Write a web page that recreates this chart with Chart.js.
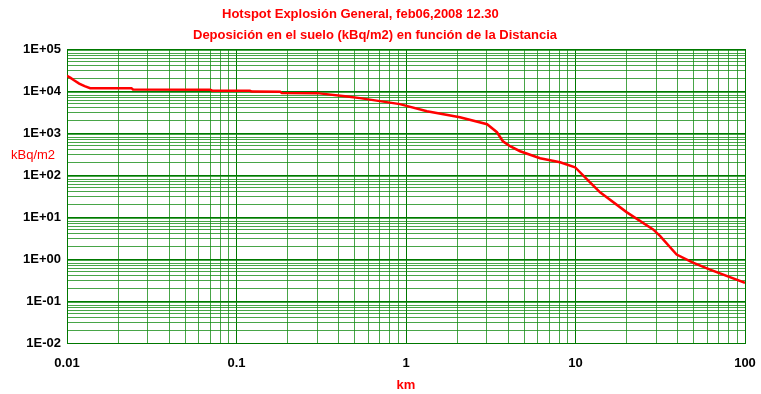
<!DOCTYPE html>
<html>
<head>
<meta charset="utf-8">
<script src="https://cdn.jsdelivr.net/npm/chart.js@4/dist/chart.umd.min.js"></script>
<style>
  html, body { margin: 0; padding: 0; background: #ffffff; }
  #c { display: block; }
</style>
</head>
<body>
<canvas id="c" width="761" height="394"></canvas>
<script>
// ---- Data ----
const distanceKm = [0.01, 0.0105, 0.011, 0.0118, 0.0127, 0.0137, 0.024, 0.0245, 0.070, 0.072, 0.120, 0.123, 0.181, 0.185, 0.299, 0.45, 0.535, 0.92, 1.33, 2.08, 3.01, 3.44, 3.73, 4.11, 4.71, 6.18, 8.11, 9.94, 11.7, 13.96, 20.1, 28.7, 31.6, 39.5, 49.3, 62.2, 100];
const depositionKBq = [23000, 20500, 18000, 15000, 13000, 11700, 11700, 10900, 10700, 10200, 10100, 9700, 9570, 9000, 8900, 7430, 6770, 4870, 3310, 2380, 1620, 1045, 636, 484, 368, 250, 201, 153, 78.9, 38.6, 12.9, 5.06, 3.5, 1.28, 0.82, 0.561, 0.27];

// Tick labels
const xDecades = [0.01, 0.1, 1, 10, 100];
const xTickLabels = ['0.01', '0.1', '1', '10', '100'];
const yDecades = [0.01, 0.1, 1, 10, 100, 1000, 10000, 100000];
const yTickLabels = ['1E-02', '1E-01', '1E+00', '1E+01', '1E+02', '1E+03', '1E+04', '1E+05'];

const titleLine1 = 'Hotspot Explosión General, feb06,2008 12.30';
const titleLine2 = 'Deposición en el suelo (kBq/m2) en función de la Distancia';
const yAxisTitle = 'kBq/m2';
const xAxisTitle = 'km';

// ---- helpers: ticks 1..9 per decade ----
function decadeTicks(decades) {
  const out = [];
  for (let i = 0; i < decades.length; i++) {
    const d = decades[i];
    if (i === decades.length - 1) { out.push({value: d, major: true}); break; }
    for (let k = 1; k <= 9; k++) {
      out.push({value: Number((k * d).toPrecision(4)), major: k === 1});
    }
  }
  return out;
}
function labelFor(value, decades, labels) {
  for (let i = 0; i < decades.length; i++) {
    if (Math.abs(value - decades[i]) / decades[i] < 1e-6) return labels[i];
  }
  return '';
}
function isDecade(value, decades) {
  return labelFor(value, decades, decades.map(() => 'x')) !== '';
}

const points = distanceKm.map((x, i) => ({x: x, y: depositionKBq[i]}));

const textPlugin = {
  id: 'texts',
  afterDraw(chart) {
    const ctx = chart.ctx;
    ctx.save();
    ctx.fillStyle = '#ff0000';
    ctx.textBaseline = 'middle';
    ctx.textAlign = 'left';
    ctx.font = 'bold 13px "Liberation Sans", Arial, sans-serif';
    ctx.fillText(titleLine1, 222, 14);
    ctx.fillText(titleLine2, 193, 35);
    ctx.font = '13px "Liberation Sans", Arial, sans-serif';
    ctx.fillText(yAxisTitle, 11, 155);
    ctx.restore();
  }
};

const bgPlugin = {
  id: 'bg',
  beforeDraw(chart) {
    const ctx = chart.ctx;
    ctx.save();
    ctx.fillStyle = '#ffffff';
    ctx.fillRect(0, 0, chart.width, chart.height);
    ctx.restore();
  }
};

function gridColor(decades) {
  return (ctx) => {
    const v = ctx.tick ? ctx.tick.value : null;
    if (v !== null && isDecade(v, decades)) return 'rgba(0,120,0,1)';
    return 'rgba(20,140,20,0.78)';
  };
}

new Chart(document.getElementById('c'), {
  type: 'line',
  data: {
    datasets: [{
      data: points,
      borderColor: '#ff0000',
      borderWidth: 2.5,
      pointRadius: 0,
      tension: 0,
      fill: false
    }]
  },
  plugins: [bgPlugin, textPlugin],
  options: {
    responsive: false,
    animation: false,
    devicePixelRatio: 1,
    layout: { padding: { top: 49, right: 16, left: 0, bottom: 0 } },
    plugins: { legend: { display: false }, tooltip: { enabled: false }, title: { display: false } },
    scales: {
      x: {
        type: 'logarithmic',
        min: 0.01,
        max: 100,
        afterBuildTicks: (scale) => { scale.ticks = decadeTicks(xDecades); },
        afterFit: (scale) => { scale.height = 51; scale.paddingRight = 0; scale.paddingLeft = 0; },
        ticks: {
          autoSkip: false,
          maxRotation: 0,
          minRotation: 0,
          padding: 13,
          color: '#000000',
          font: { family: '"Liberation Sans", Arial, sans-serif', size: 13, weight: 'bold' },
          callback: (value) => labelFor(value, xDecades, xTickLabels)
        },
        grid: { color: gridColor(xDecades), lineWidth: 1, drawTicks: false },
        border: { color: 'rgba(0,120,0,1)', width: 1 },
        title: {
          display: true,
          text: xAxisTitle,
          color: '#ff0000',
          font: { family: '"Liberation Sans", Arial, sans-serif', size: 13, weight: 'bold' },
          padding: { top: 0, bottom: 1 }
        }
      },
      y: {
        type: 'logarithmic',
        min: 0.01,
        max: 100000,
        afterBuildTicks: (scale) => { scale.ticks = decadeTicks(yDecades); },
        afterFit: (scale) => { scale.width = 67; },
        ticks: {
          autoSkip: false,
          padding: 6,
          color: '#000000',
          font: { family: '"Liberation Sans", Arial, sans-serif', size: 13, weight: 'bold' },
          callback: (value) => labelFor(value, yDecades, yTickLabels)
        },
        grid: { color: gridColor(yDecades), lineWidth: 1, drawTicks: false },
        border: { color: 'rgba(0,120,0,1)', width: 1 }
      }
    }
  }
});
</script>
</body>
</html>
